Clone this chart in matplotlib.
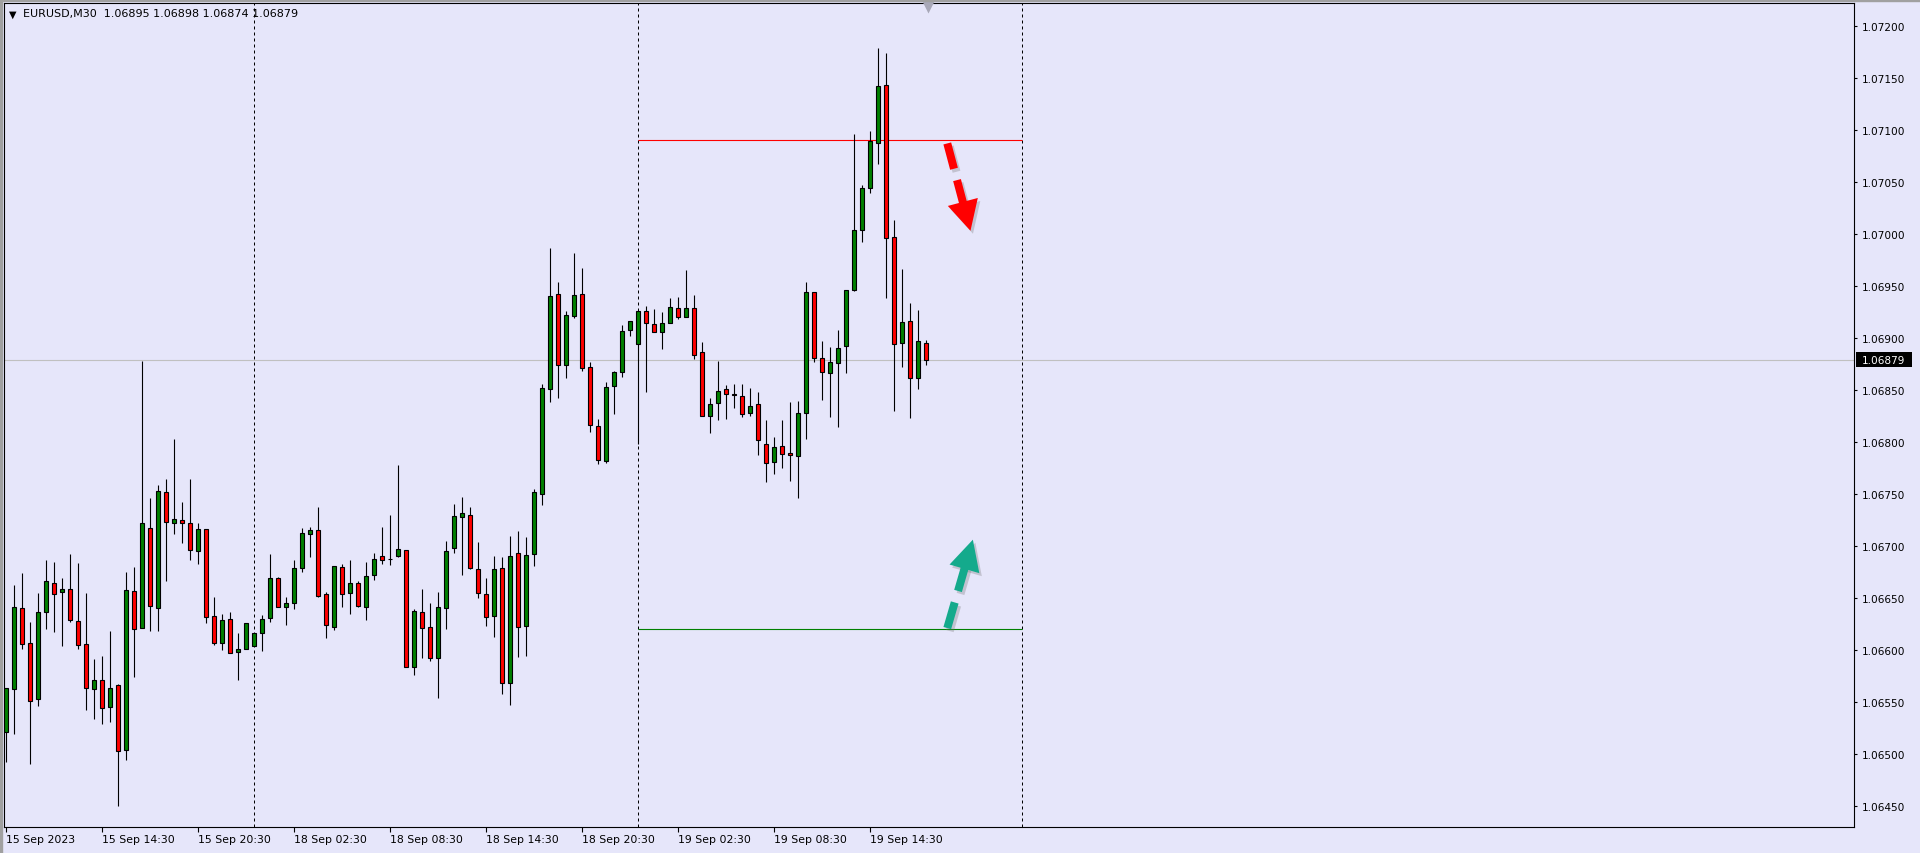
import matplotlib
matplotlib.use("Agg")
import matplotlib.pyplot as plt
import numpy as np
from matplotlib.patches import Rectangle, Polygon
from matplotlib.transforms import IdentityTransform, blended_transform_factory

# EURUSD M30, 15 Sep 08:30 -> 19 Sep 18:00 (bar index 0..115)
opens = [1.06521, 1.06562, 1.06640, 1.06607, 1.06553, 1.06636, 1.06664, 1.06656, 1.06659, 1.06628,
         1.06606, 1.06562, 1.06571, 1.06545, 1.06566, 1.06504, 1.06657, 1.06621, 1.06717, 1.06640,
         1.06752, 1.06722, 1.06725, 1.06722, 1.06695, 1.06716, 1.06633, 1.06607, 1.06630, 1.06598,
         1.06601, 1.06604, 1.06616, 1.06631, 1.06669, 1.06641, 1.06645, 1.06679, 1.06711, 1.06715,
         1.06654, 1.06622, 1.06680, 1.06655, 1.06664, 1.06641, 1.06672, 1.06690, 1.06687, 1.06690,
         1.06696, 1.06584, 1.06636, 1.06622, 1.06592, 1.06640, 1.06698, 1.06728, 1.06730, 1.06678,
         1.06654, 1.06633, 1.06679, 1.06568, 1.06693, 1.06623, 1.06692, 1.06750, 1.06851, 1.06942,
         1.06874, 1.06921, 1.06942, 1.06872, 1.06815, 1.06782, 1.06854, 1.06867, 1.06908, 1.06894,
         1.06926, 1.06913, 1.06906, 1.06914, 1.06929, 1.06920, 1.06929, 1.06886, 1.06825, 1.06837,
         1.06851, 1.06846, 1.06844, 1.06828, 1.06836, 1.06798, 1.06781, 1.06796, 1.06789, 1.06786,
         1.06828, 1.06944, 1.06881, 1.06866, 1.06876, 1.06892, 1.06946, 1.07004, 1.07044, 1.07087,
         1.07143, 1.06997, 1.06895, 1.06916, 1.06861, 1.06895]
highs = [1.06563, 1.06662, 1.06674, 1.06627, 1.06655, 1.06686, 1.06685, 1.06669, 1.06692, 1.06684,
         1.06655, 1.06591, 1.06594, 1.06618, 1.06567, 1.06675, 1.06680, 1.06878, 1.06746, 1.06759,
         1.06764, 1.06803, 1.06742, 1.06764, 1.06722, 1.06716, 1.06651, 1.06635, 1.06636, 1.06616,
         1.06626, 1.06616, 1.06634, 1.06692, 1.06670, 1.06651, 1.06686, 1.06717, 1.06718, 1.06737,
         1.06656, 1.06681, 1.06683, 1.06686, 1.06666, 1.06685, 1.06693, 1.06718, 1.06730, 1.06778,
         1.06696, 1.06639, 1.06659, 1.06645, 1.06656, 1.06705, 1.06740, 1.06747, 1.06737, 1.06704,
         1.06669, 1.06690, 1.06689, 1.06710, 1.06714, 1.06709, 1.06755, 1.06856, 1.06986, 1.06954,
         1.06926, 1.06982, 1.06967, 1.06877, 1.06822, 1.06858, 1.06868, 1.06912, 1.06916, 1.06926,
         1.06931, 1.06928, 1.06925, 1.06938, 1.06939, 1.06965, 1.06941, 1.06896, 1.06842, 1.06878,
         1.06855, 1.06856, 1.06856, 1.06852, 1.06848, 1.06821, 1.06805, 1.06821, 1.06838, 1.06839,
         1.06954, 1.06944, 1.06897, 1.06891, 1.06908, 1.06946, 1.07096, 1.07047, 1.07099, 1.07179,
         1.07174, 1.07013, 1.06966, 1.06934, 1.06927, 1.06898]
lows = [1.06492, 1.06519, 1.06601, 1.06490, 1.06546, 1.06620, 1.06617, 1.06604, 1.06627, 1.06601,
        1.06542, 1.06534, 1.06529, 1.06531, 1.06450, 1.06494, 1.06574, 1.06621, 1.06618, 1.06618,
        1.06666, 1.06711, 1.06703, 1.06686, 1.06683, 1.06626, 1.06605, 1.06600, 1.06597, 1.06571,
        1.06601, 1.06604, 1.06599, 1.06627, 1.06641, 1.06624, 1.06639, 1.06675, 1.06689, 1.06651,
        1.06611, 1.06619, 1.06641, 1.06635, 1.06641, 1.06629, 1.06667, 1.06683, 1.06682, 1.06689,
        1.06584, 1.06576, 1.06592, 1.06589, 1.06554, 1.06620, 1.06693, 1.06672, 1.06678, 1.06650,
        1.06623, 1.06612, 1.06558, 1.06547, 1.06593, 1.06594, 1.06681, 1.06739, 1.06838, 1.06842,
        1.06861, 1.06919, 1.06868, 1.06810, 1.06779, 1.06780, 1.06827, 1.06862, 1.06902, 1.06798,
        1.06848, 1.06906, 1.06889, 1.06914, 1.06918, 1.06920, 1.06880, 1.06825, 1.06809, 1.06821,
        1.06822, 1.06833, 1.06824, 1.06825, 1.06787, 1.06761, 1.06769, 1.06775, 1.06762, 1.06746,
        1.06803, 1.06877, 1.06840, 1.06824, 1.06814, 1.06866, 1.06945, 1.06992, 1.07039, 1.07067,
        1.06938, 1.06830, 1.06872, 1.06823, 1.06851, 1.06874]
closes = [1.06563, 1.06641, 1.06606, 1.06551, 1.06636, 1.06666, 1.06654, 1.06659, 1.06629, 1.06605,
          1.06563, 1.06571, 1.06544, 1.06563, 1.06503, 1.06658, 1.06620, 1.06722, 1.06642, 1.06753,
          1.06723, 1.06726, 1.06722, 1.06696, 1.06716, 1.06632, 1.06607, 1.06629, 1.06597, 1.06601,
          1.06626, 1.06616, 1.06630, 1.06669, 1.06641, 1.06645, 1.06679, 1.06712, 1.06715, 1.06652,
          1.06624, 1.06681, 1.06654, 1.06664, 1.06642, 1.06671, 1.06687, 1.06686, 1.06687, 1.06697,
          1.06584, 1.06637, 1.06621, 1.06592, 1.06641, 1.06695, 1.06729, 1.06732, 1.06679, 1.06655,
          1.06632, 1.06678, 1.06568, 1.06690, 1.06622, 1.06691, 1.06752, 1.06852, 1.06940, 1.06874,
          1.06922, 1.06941, 1.06871, 1.06816, 1.06783, 1.06853, 1.06867, 1.06907, 1.06916, 1.06926,
          1.06914, 1.06906, 1.06914, 1.06930, 1.06920, 1.06929, 1.06884, 1.06825, 1.06836, 1.06849,
          1.06846, 1.06845, 1.06827, 1.06835, 1.06802, 1.06780, 1.06795, 1.06788, 1.06787, 1.06828,
          1.06944, 1.06881, 1.06867, 1.06877, 1.06890, 1.06946, 1.07004, 1.07044, 1.07089, 1.07142,
          1.06996, 1.06894, 1.06915, 1.06861, 1.06897, 1.06879]

# time axis labels (every 12 bars) and day separators
date_ticks = [0, 12, 24, 36, 48, 60, 72, 84, 96, 108]
date_labels = ['15 Sep 2023', '15 Sep 14:30', '15 Sep 20:30', '18 Sep 02:30', '18 Sep 08:30',
               '18 Sep 14:30', '18 Sep 20:30', '19 Sep 02:30', '19 Sep 08:30', '19 Sep 14:30']
separators = [31, 79, 127]
price_ticks = np.arange(1.0645, 1.07201, 0.0005)

# levels for 19 Sep and the two arrows (bar index, price)
level_span = (79, 127)
upper_level = 1.07090
lower_level = 1.06620
bid = 1.06879
red_arrow = [(117.7, 1.07087), (120.6, 1.07003)]
green_arrow = [(117.7, 1.06621), (120.9, 1.06706)]

bg = '#e6e6fa'
fig = plt.figure(figsize=(19.2, 8.54), dpi=100, facecolor=bg)
ax = fig.add_axes([4 / 1920, 26 / 854, 1850 / 1920, 823.7 / 854])
ax.set_facecolor(bg)
ax.set_xlim(-0.21, 231.04)
ax.set_ylim(1.0642974, 1.0722173)

o = np.array(opens); h = np.array(highs); l = np.array(lows); c = np.array(closes)
x = np.arange(len(o))
up = c >= o
cols = np.where(up, '#008000', '#ff0000')

# separators, levels, bid line
for s in separators:
    ax.axvline(s, color='black', lw=0.72, ls=(0, (3, 3)), zorder=1)
ax.axhline(bid, color='#c0c0c0', lw=0.8, zorder=1)
ax.hlines(upper_level, *level_span, color='#ff0000', lw=0.8, zorder=1)
ax.hlines(lower_level, *level_span, color='#008000', lw=0.8, zorder=1)

# candles
ax.vlines(x, l, h, color='black', lw=0.8, zorder=2)
ax.bar(x, np.abs(c - o), bottom=np.minimum(o, c), width=0.5, color=cols,
       edgecolor='black', linewidth=0.8, zorder=3)

# axes styling
for sp in ax.spines.values():
    sp.set_color('black')
    sp.set_linewidth(0.8)
ax.yaxis.tick_right()
ax.set_yticks(price_ticks)
ax.set_yticklabels([f'{p:.5f}' for p in price_ticks])
ax.tick_params(axis='y', direction='out', length=2.5, width=0.8, pad=3.5, labelsize=7.6, colors='black')
ax.set_xticks(date_ticks)
ax.set_xticklabels(date_labels)
ax.tick_params(axis='x', direction='out', length=3.6, width=0.8, pad=1.5, labelsize=7.8, colors='black')
for lab in ax.get_xticklabels():
    lab.set_ha('left')

# bid label on the price scale
tr = blended_transform_factory(ax.transAxes, ax.transData)
ax.add_patch(Rectangle((1 + 2 / 1850, bid - 0.000072), 56 / 1850, 0.000144, transform=tr,
                       facecolor='black', edgecolor='none', clip_on=False, zorder=5))
ax.text(1 + 30 / 1850, bid, f'{bid:.5f}', transform=tr, color='white', fontsize=7.6,
        ha='center', va='center', clip_on=False, zorder=6)

# chart shift marker
ax.plot([x[-1] + 0.3], [0.995], marker='v', ms=8, color='#a8a8b8',
        transform=blended_transform_factory(ax.transData, ax.transAxes),
        clip_on=False, zorder=4, mec='none')


def draw_arrow(start, tip, color):
    p0 = ax.transData.transform(start)
    p1 = ax.transData.transform(tip)
    d = p1 - p0
    L = np.hypot(*d)
    u = d / L
    n = np.array([-u[1], u[0]])
    w, hw = 4.0, 15.5

    def seg(a, b):
        q0 = p0 + u * L * a
        q1 = p0 + u * L * b
        return [q0 + n * w, q1 + n * w, q1 - n * w, q0 - n * w]

    base = p0 + u * L * 0.67
    shapes = [seg(0, 0.29), seg(0.42, 0.69), [base + n * hw, p1, base - n * hw]]
    for off, col, a in [((2.5, -3), '#707070', 0.3), ((0, 0), color, 1)]:
        for pts in shapes:
            ax.add_patch(Polygon(np.array(pts) + off, closed=True, transform=IdentityTransform(),
                                 facecolor=col, edgecolor='none', alpha=a, clip_on=False, zorder=7))


draw_arrow(*red_arrow, '#ff0000')
draw_arrow(*green_arrow, '#14aa8c')

# header
fig.text(8.5 / 1920, 1 - 14.5 / 854, '\u25bc', fontsize=7, va='center', ha='left', color='black')
fig.text(23 / 1920, 1 - 14.5 / 854, 'EURUSD,M30  1.06895 1.06898 1.06874 1.06879',
         fontsize=8, va='center', ha='left', color='black')

# window frame
fig.patches.append(Rectangle((0, 1 - 2 / 854), 1, 2 / 854, transform=fig.transFigure, color='#a0a0a0'))
fig.patches.append(Rectangle((0, 0), 2 / 1920, 1, transform=fig.transFigure, color='#a0a0a0'))

fig.savefig('out.png', dpi=100, facecolor=bg)
